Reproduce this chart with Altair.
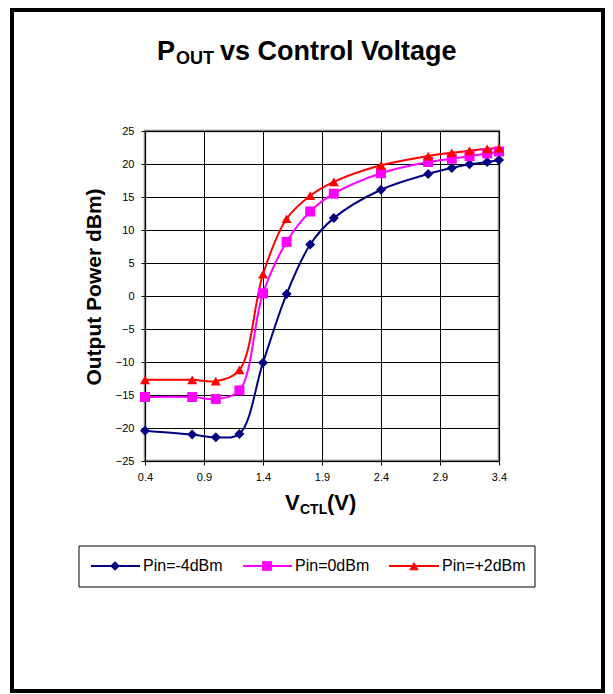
import altair as alt
import pandas as pd

# ---- data ----
vctl = [0.4, 0.8, 1.0, 1.2, 1.4, 1.6, 1.8, 2.0, 2.4, 2.8, 3.0, 3.15, 3.3, 3.4]
pin_m4 = [-20.4, -21.0, -21.4, -20.9, -10.1, 0.3, 7.8, 11.8, 16.1, 18.5, 19.4, 19.95, 20.3, 20.6]
pin_0 = [-15.3, -15.3, -15.6, -14.3, 0.4, 8.2, 12.8, 15.5, 18.6, 20.3, 20.8, 21.2, 21.6, 21.9]
pin_p2 = [-12.7, -12.7, -12.9, -11.2, 3.3, 11.7, 15.2, 17.3, 19.8, 21.2, 21.7, 22.0, 22.3, 22.4]

series_names = ["Pin=-4dBm", "Pin=0dBm", "Pin=+2dBm"]
series_values = [pin_m4, pin_0, pin_p2]
colors = ["#000080", "#FF00FF", "#FF0000"]
shapes = ["diamond", "square", "triangle-up"]

x_ticks = [0.4, 0.9, 1.4, 1.9, 2.4, 2.9, 3.4]
y_ticks = [-25, -20, -15, -10, -5, 0, 5, 10, 15, 20, 25]

FONT = "Liberation Sans"

rows = []
for name, vals in zip(series_names, series_values):
    for x, y in zip(vctl, vals):
        rows.append({"series": name, "vctl": x, "pout": y})
df = pd.DataFrame(rows)

one = pd.DataFrame({"k": [0]})

common_axis = dict(title=None, tickSize=4, labelFontSize=11, labelFont=FONT,
                   labelColor="black", domainColor="black", tickColor="black",
                   gridColor="black", gridWidth=1, grid=True,
                   labelOverlap=False, labelFlush=False, labelBound=False)
xenc = alt.X("vctl:Q",
             scale=alt.Scale(domain=[0.4, 3.4], nice=False, zero=False),
             axis=alt.Axis(values=x_ticks, format=".1f", labelPadding=6, **common_axis))
yenc = alt.Y("pout:Q",
             scale=alt.Scale(domain=[-25, 25], nice=False, zero=False),
             axis=alt.Axis(values=y_ticks, format="d", labelPadding=7, **common_axis))
cenc = alt.Color("series:N", scale=alt.Scale(domain=series_names, range=colors), legend=None)
senc = alt.Shape("series:N", scale=alt.Scale(domain=series_names, range=shapes), legend=None)

lines = alt.Chart(df).mark_line(interpolate="catmull-rom", strokeWidth=2).encode(
    x=xenc, y=yenc, color=cenc, detail="series:N", order="vctl:Q")
points = alt.Chart(df).mark_point(filled=True, size=100, opacity=1).encode(
    x=xenc, y=yenc, color=cenc, shape=senc)

def txt(s, x, y, size, bold=True, align="left", baseline="alphabetic", angle=0):
    kw = dict(font=FONT, fontSize=size, fontWeight="bold" if bold else "normal",
              align=align, baseline=baseline, color="black")
    if angle:
        kw["angle"] = angle
    return alt.Chart(one).mark_text(**kw).encode(
        x=alt.value(x), y=alt.value(y), text=alt.value(s))

# outer frame
frame = alt.Chart(one).mark_rect(fillOpacity=0, stroke="black", strokeWidth=4).encode(
    x=alt.value(-133), x2=alt.value(458), y=alt.value(-121), y2=alt.value(560))

# title with subscript
title_layers = [
    txt("P", 12, -71, 27),
    txt("OUT", 31, -67, 18),
    txt("vs Control Voltage", 75, -71, 27),
]
# axis titles
xt_layers = [
    txt("V", 140, 379, 22),
    txt("CTL", 155, 383, 14),
    txt("(V)", 182, 379, 22),
]
yt = txt("Output Power dBm)", -50, 156, 21, align="center", baseline="middle", angle=270)

# legend
legend_box = alt.Chart(one).mark_rect(fill="white", stroke="black", strokeWidth=1).encode(
    x=alt.value(-66), x2=alt.value(390), y=alt.value(415), y2=alt.value(456))
leg_layers = [legend_box]
leg_pos = [(-54, -5, -30, -2), (98, 147, 122, 150), (244, 294, 269, 297)]
for (x1, x2, xm, xtx), name, col, shp in zip(leg_pos, series_names, colors, shapes):
    leg_layers.append(alt.Chart(one).mark_rule(color=col, strokeWidth=2).encode(
        x=alt.value(x1), x2=alt.value(x2), y=alt.value(435)))
    leg_layers.append(alt.Chart(one).mark_point(filled=True, size=95, opacity=1, color=col, shape=shp).encode(
        x=alt.value(xm), y=alt.value(435)))
    leg_layers.append(txt(name, xtx, 435, 16, bold=False, baseline="middle"))

chart = alt.layer(
    frame, lines, points, *title_layers, *xt_layers, yt, *leg_layers
).properties(
    width=354, height=330,
    autosize=alt.AutoSizeParams(type="none"),
    padding={"left": 137, "top": 123, "right": 106, "bottom": 233},
    background="white",
).configure_view(stroke="#808080", strokeWidth=2.5
).configure_axis(labelOverlap=False)

chart.save("out.html", embed_options={"renderer": "svg", "actions": False})
